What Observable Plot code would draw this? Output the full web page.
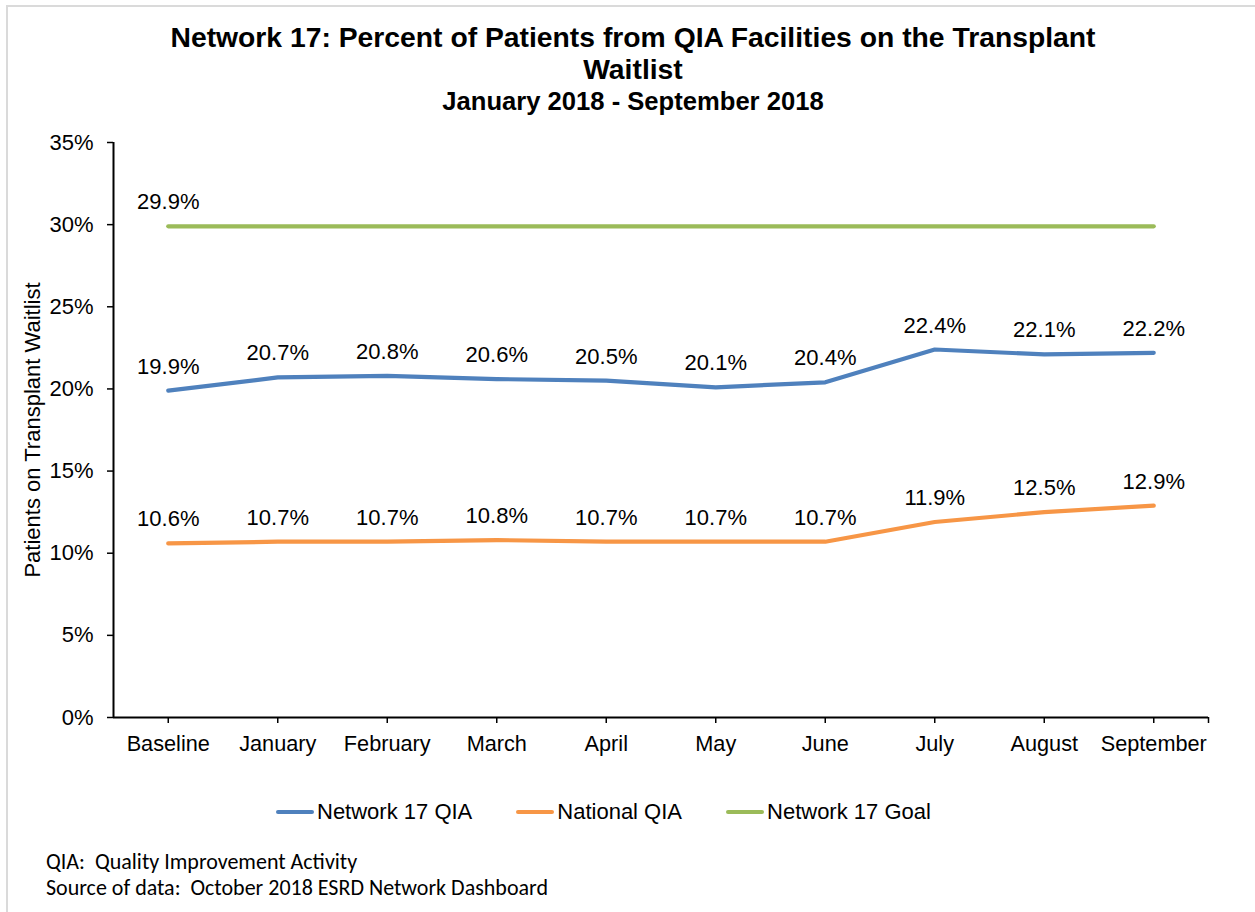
<!DOCTYPE html>
<html>
<head>
<meta charset="utf-8">
<script src="https://cdn.jsdelivr.net/npm/d3@7"></script>
<script src="https://cdn.jsdelivr.net/npm/@observablehq/plot@0.6"></script>
<style>
  html, body { margin: 0; padding: 0; background: #fff; }
  #page { position: relative; width: 1255px; height: 912px; overflow: hidden; background: #fff;
          font-family: "Liberation Sans", Arial, sans-serif; color: #000; }
  #edge { position: absolute; left: 6px; top: 5px; width: 1400px; height: 1100px;
          border-left: 2px solid #dadada; border-top: 2px solid #dadada; }
  #title { position: absolute; left: 0; top: 21px; width: 1266px; text-align: center;
           font-weight: bold; font-size: 28.3px; line-height: 32px; }
  #subtitle { position: absolute; left: 0; top: 86px; width: 1266px; text-align: center;
              font-weight: bold; font-size: 25.6px; line-height: 30px; }
  #chart { position: absolute; left: 0; top: 115px; }
  #ytitle { position: absolute; left: 33px; top: 430px; transform: translate(-50%, -50%) rotate(-90deg);
            white-space: nowrap; font-size: 22px; }
  #legend { position: absolute; left: 276px; top: 798px; display: flex; gap: 44px; font-size: 22px; line-height: 28px; }
  .item { display: flex; align-items: center; }
  .sw { width: 38px; height: 4px; border-radius: 2px; margin-right: 3px; }
  #caption { position: absolute; left: 46px; top: 849px; font-family: Carlito, Calibri, Lato, sans-serif;
             font-size: 22px; line-height: 26px; white-space: pre; color: #000; }
</style>
</head>
<body>
<div id="page">
  <div id="edge"></div>
  <div id="title">Network 17: Percent of Patients from QIA Facilities on the Transplant<br>Waitlist</div>
  <div id="subtitle">January 2018 - September 2018</div>
  <div id="chart"></div>
  <div id="ytitle">Patients on Transplant Waitlist</div>
  <div id="legend"></div>
  <div id="caption"></div>
</div>
<script>
const categories = ["Baseline", "January", "February", "March", "April", "May", "June", "July", "August", "September"];
const network17QIA = [19.9, 20.7, 20.8, 20.6, 20.5, 20.1, 20.4, 22.4, 22.1, 22.2];
const nationalQIA = [10.6, 10.7, 10.7, 10.8, 10.7, 10.7, 10.7, 11.9, 12.5, 12.9];
const network17Goal = [29.9, 29.9, 29.9, 29.9, 29.9, 29.9, 29.9, 29.9, 29.9, 29.9];
const seriesNames = ["Network 17 QIA", "National QIA", "Network 17 Goal"];
const seriesColors = ["#4F81BD", "#F79646", "#9BBB59"];
const yTicks = [0, 5, 10, 15, 20, 25, 30, 35];
const captionLines = ["QIA:  Quality Improvement Activity", "Source of data:  October 2018 ESRD Network Dashboard"];

const seriesValues = [network17QIA, nationalQIA, network17Goal];
const rows = seriesValues.flatMap((vals, s) =>
  vals.map((v, i) => ({i, category: categories[i], value: v, series: seriesNames[s]})));
// the goal series is labelled only at its first point
const labeled = rows.filter(d => d.series !== seriesNames[2] || d.i === 0);

const chart = Plot.plot({
  width: 1255,
  height: 660,
  marginTop: 27,
  marginBottom: 58,
  marginLeft: 113,
  marginRight: 47,
  style: {fontFamily: "'Liberation Sans', Arial, sans-serif", fontSize: "22px", color: "#000", background: "transparent", overflow: "visible"},
  x: {type: "linear", domain: [-0.5, categories.length - 0.5], axis: null},
  y: {domain: [0, 35], axis: null},
  color: {domain: seriesNames, range: seriesColors},
  marks: [
    Plot.axisY({ticks: yTicks, tickSize: 6, tickPadding: 14, tickFormat: d => d + "%", label: null, fontSize: 22, strokeWidth: 1.5}),
    Plot.axisX({ticks: [...categories.map((_, i) => i), categories.length - 0.5], tickSize: 6, tickPadding: 12,
                tickFormat: i => categories[i] ?? "", label: null, fontSize: 21.7, strokeWidth: 1.5}),
    Plot.ruleY([0], {stroke: "#000", strokeWidth: 2}),
    Plot.ruleX([-0.5], {stroke: "#000", strokeWidth: 2}),
    Plot.line(rows, {x: "i", y: "value", z: "series", stroke: "series", strokeWidth: 4.2, strokeLinecap: "round", strokeLinejoin: "round"}),
    Plot.text(labeled, {x: "i", y: "value", text: d => d.value.toFixed(1) + "%", dy: -24, fontSize: 22, fill: "#000"})
  ]
});
document.getElementById("chart").appendChild(chart);

const legend = document.getElementById("legend");
seriesNames.forEach((name, k) => {
  const item = document.createElement("div");
  item.className = "item";
  const sw = document.createElement("div");
  sw.className = "sw";
  sw.style.background = seriesColors[k];
  const tx = document.createElement("span");
  tx.textContent = name;
  item.appendChild(sw);
  item.appendChild(tx);
  legend.appendChild(item);
});

document.getElementById("caption").textContent = captionLines.join("\n");
</script>
</body>
</html>
